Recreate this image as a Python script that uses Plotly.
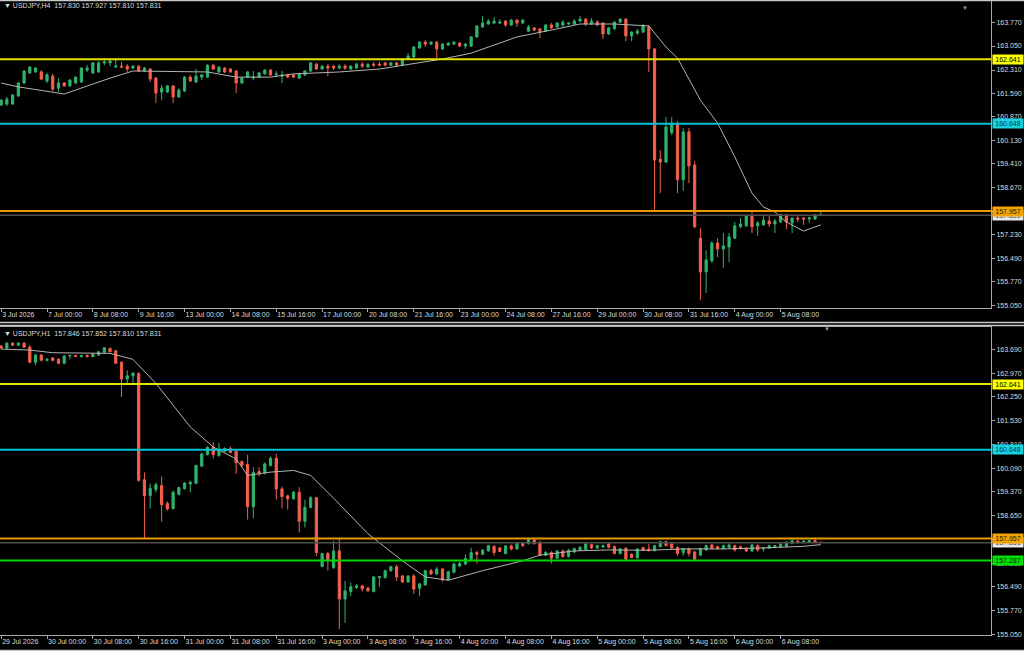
import plotly.graph_objects as go

# USDJPY H4 bars, (open, high, low, close)
h4_ohlc = [
    (161.23, 161.41, 161.20, 161.38), (161.26, 161.48, 161.20, 161.41), (161.26, 161.57, 161.23, 161.54),
    (161.51, 161.94, 161.48, 161.91), (161.91, 162.31, 161.88, 162.28), (162.22, 162.43, 162.19, 162.40),
    (162.25, 162.40, 162.22, 162.37), (162.25, 162.31, 162.00, 162.03), (161.97, 162.22, 161.91, 162.16),
    (162.12, 162.19, 161.66, 161.72), (161.75, 162.06, 161.63, 161.91), (161.91, 161.94, 161.79, 161.82),
    (161.82, 162.03, 161.79, 162.00), (161.91, 162.12, 161.88, 162.09), (161.94, 162.40, 161.91, 162.37),
    (162.31, 162.46, 162.25, 162.37), (162.22, 162.56, 162.19, 162.53), (162.25, 162.59, 162.22, 162.53),
    (162.53, 162.68, 162.46, 162.56), (162.53, 162.65, 162.43, 162.59), (162.40, 162.62, 162.37, 162.43),
    (162.43, 162.56, 162.37, 162.40), (162.43, 162.49, 162.25, 162.34), (162.37, 162.46, 162.34, 162.43),
    (162.43, 162.46, 162.25, 162.28), (162.28, 162.40, 162.25, 162.37), (162.34, 162.37, 161.94, 162.03),
    (162.06, 162.09, 161.29, 161.60), (161.63, 161.85, 161.38, 161.75), (161.63, 161.85, 161.60, 161.82),
    (161.82, 161.85, 161.29, 161.48), (161.48, 161.75, 161.45, 161.69), (161.66, 162.12, 161.63, 162.09),
    (162.09, 162.16, 161.94, 161.97), (161.94, 162.34, 161.91, 162.12), (162.09, 162.19, 162.00, 162.16),
    (162.09, 162.49, 162.06, 162.46), (162.46, 162.49, 162.31, 162.34), (162.25, 162.43, 162.22, 162.40),
    (162.37, 162.40, 162.22, 162.25), (162.34, 162.37, 162.22, 162.25), (162.28, 162.31, 161.60, 161.91),
    (161.91, 162.09, 161.88, 162.06), (162.09, 162.28, 162.06, 162.25), (162.06, 162.28, 162.00, 162.09),
    (162.09, 162.25, 162.06, 162.22), (162.19, 162.34, 162.16, 162.31), (162.31, 162.34, 162.12, 162.16),
    (162.16, 162.28, 162.09, 162.19), (162.12, 162.28, 161.91, 162.16), (162.16, 162.19, 162.06, 162.09),
    (162.16, 162.19, 162.06, 162.09), (162.06, 162.22, 162.03, 162.19), (162.16, 162.31, 162.12, 162.28),
    (162.28, 162.56, 162.25, 162.53), (162.49, 162.53, 162.31, 162.34), (162.34, 162.46, 162.31, 162.43),
    (162.43, 162.49, 162.12, 162.37), (162.43, 162.46, 162.31, 162.37), (162.37, 162.49, 162.34, 162.43),
    (162.43, 162.49, 162.31, 162.37), (162.34, 162.46, 162.31, 162.43), (162.37, 162.53, 162.34, 162.49),
    (162.49, 162.56, 162.37, 162.43), (162.40, 162.53, 162.37, 162.49), (162.49, 162.56, 162.40, 162.46),
    (162.49, 162.56, 162.43, 162.46), (162.53, 162.56, 162.43, 162.46), (162.46, 162.56, 162.43, 162.53),
    (162.53, 162.56, 162.43, 162.46), (162.46, 162.68, 162.43, 162.65), (162.65, 162.83, 162.62, 162.74),
    (162.71, 163.05, 162.68, 163.02), (162.99, 163.20, 162.96, 163.17), (163.17, 163.24, 163.02, 163.11),
    (163.11, 163.20, 163.08, 163.17), (163.17, 163.20, 162.68, 162.96), (162.96, 163.14, 162.93, 163.11),
    (163.08, 163.17, 163.05, 163.14), (163.11, 163.20, 163.08, 163.17), (163.14, 163.17, 163.02, 163.05),
    (163.05, 163.14, 162.96, 163.11), (163.05, 163.36, 163.02, 163.33), (163.33, 163.70, 163.30, 163.67),
    (163.64, 163.98, 163.61, 163.76), (163.73, 163.88, 163.70, 163.82), (163.76, 163.95, 163.73, 163.82),
    (163.76, 163.88, 163.73, 163.79), (163.82, 163.85, 163.64, 163.70), (163.70, 163.88, 163.67, 163.85),
    (163.85, 163.88, 163.64, 163.76), (163.76, 163.88, 163.73, 163.85), (163.51, 163.70, 163.48, 163.64),
    (163.61, 163.64, 163.51, 163.54), (163.58, 163.61, 163.30, 163.48), (163.51, 163.73, 163.48, 163.70),
    (163.70, 163.76, 163.58, 163.61), (163.64, 163.79, 163.61, 163.76), (163.70, 163.85, 163.64, 163.79),
    (163.73, 163.79, 163.70, 163.76), (163.73, 163.88, 163.70, 163.82), (163.82, 163.98, 163.79, 163.88),
    (163.88, 163.91, 163.67, 163.73), (163.73, 163.91, 163.70, 163.82), (163.79, 163.85, 163.67, 163.70),
    (163.76, 163.79, 163.27, 163.42), (163.42, 163.64, 163.39, 163.61), (163.58, 163.82, 163.54, 163.79),
    (163.79, 163.91, 163.76, 163.88), (163.88, 163.91, 163.20, 163.36), (163.36, 163.51, 163.20, 163.48),
    (163.45, 163.58, 163.39, 163.51), (163.48, 163.73, 163.45, 163.67), (163.64, 163.70, 162.25, 162.96),
    (162.96, 162.99, 157.96, 159.53), (159.56, 159.84, 158.51, 159.47), (159.47, 160.86, 159.44, 160.55),
    (160.37, 160.86, 160.30, 160.67), (160.67, 160.73, 158.51, 158.92), (158.92, 160.52, 158.58, 160.40),
    (160.40, 160.52, 158.82, 159.35), (159.38, 159.50, 157.43, 157.47), (157.12, 157.43, 155.21, 156.08),
    (156.08, 156.75, 155.43, 156.45), (156.42, 157.03, 156.35, 156.97), (156.97, 157.12, 156.54, 156.79),
    (156.79, 157.28, 156.20, 156.88), (156.85, 157.28, 156.38, 157.16), (157.12, 157.62, 157.09, 157.50),
    (157.47, 157.74, 157.43, 157.56), (157.50, 157.84, 157.47, 157.80), (157.80, 157.93, 157.28, 157.47),
    (157.50, 157.65, 157.19, 157.59), (157.53, 157.80, 157.50, 157.68), (157.65, 157.84, 157.47, 157.56),
    (157.56, 157.71, 157.28, 157.65), (157.62, 157.87, 157.59, 157.84), (157.84, 157.87, 157.40, 157.62),
    (157.59, 157.77, 157.28, 157.74), (157.74, 157.80, 157.62, 157.71), (157.74, 157.77, 157.53, 157.71),
    (157.71, 157.78, 157.59, 157.75), (157.71, 157.87, 157.68, 157.84), (157.830, 157.927, 157.810, 157.831),
]

# USDJPY H1 bars, (open, high, low, close)
h1_ohlc = [
    (163.79, 163.82, 163.70, 163.73), (163.73, 163.91, 163.70, 163.88), (163.88, 163.91, 163.79, 163.82),
    (163.82, 163.91, 163.79, 163.88), (163.88, 163.91, 163.73, 163.76), (163.76, 163.82, 163.27, 163.30),
    (163.30, 163.55, 163.21, 163.52), (163.52, 163.55, 163.33, 163.36), (163.36, 163.43, 163.33, 163.39),
    (163.43, 163.46, 163.33, 163.36), (163.39, 163.43, 163.24, 163.27), (163.27, 163.52, 163.24, 163.49),
    (163.49, 163.52, 163.39, 163.51), (163.51, 163.52, 163.46, 163.48), (163.47, 163.52, 163.45, 163.51),
    (163.51, 163.53, 163.45, 163.47), (163.47, 163.58, 163.45, 163.55), (163.52, 163.64, 163.49, 163.62),
    (163.60, 163.76, 163.58, 163.74), (163.72, 163.75, 163.60, 163.62), (163.65, 163.68, 163.25, 163.27),
    (163.30, 163.33, 162.25, 162.79), (162.79, 163.06, 162.66, 162.89), (162.89, 163.00, 162.66, 162.97),
    (162.96, 163.00, 159.68, 159.72), (159.74, 159.96, 157.94, 159.26), (159.26, 159.62, 158.86, 159.47),
    (159.44, 159.65, 159.35, 159.59), (159.56, 159.84, 158.47, 158.98), (159.02, 159.08, 158.80, 158.85),
    (158.87, 159.41, 158.83, 159.36), (159.30, 159.53, 159.26, 159.50), (159.47, 159.66, 159.44, 159.64),
    (159.61, 159.71, 159.35, 159.66), (159.63, 160.20, 159.60, 160.17), (160.15, 160.56, 160.12, 160.52),
    (160.50, 160.75, 160.47, 160.72), (160.72, 160.88, 160.38, 160.50), (160.47, 160.86, 160.44, 160.66),
    (160.60, 160.72, 160.57, 160.68), (160.68, 160.75, 160.55, 160.56), (160.60, 160.63, 159.92, 160.26),
    (160.29, 160.32, 160.12, 160.18), (160.20, 160.50, 158.53, 158.92), (158.92, 160.12, 158.57, 159.96),
    (159.99, 160.12, 159.84, 159.94), (159.94, 160.26, 159.90, 160.22), (160.17, 160.44, 160.14, 160.39),
    (160.39, 160.53, 159.14, 159.46), (159.46, 159.53, 158.87, 159.23), (159.25, 159.28, 158.83, 159.16),
    (159.16, 159.40, 159.13, 159.36), (159.36, 159.51, 158.14, 158.48), (158.48, 159.13, 158.29, 158.90),
    (158.90, 159.25, 158.87, 159.19), (159.19, 159.22, 157.43, 157.53), (157.11, 157.52, 157.08, 157.50),
    (157.50, 157.55, 156.98, 157.28), (157.07, 157.89, 157.04, 157.58), (157.58, 157.95, 155.21, 156.12),
    (156.12, 156.67, 155.40, 156.37), (156.35, 156.62, 156.21, 156.49), (156.47, 156.58, 156.43, 156.52),
    (156.52, 156.55, 156.35, 156.43), (156.45, 156.49, 156.34, 156.37), (156.35, 156.82, 156.32, 156.79),
    (156.77, 156.82, 156.49, 156.80), (156.77, 157.01, 156.74, 156.98), (156.98, 157.13, 156.95, 157.10),
    (157.10, 157.16, 156.67, 156.79), (156.82, 156.85, 156.61, 156.64), (156.64, 156.85, 156.61, 156.82),
    (156.82, 156.88, 156.28, 156.42), (156.45, 156.61, 156.21, 156.58), (156.55, 157.01, 156.52, 156.98),
    (156.98, 157.04, 156.86, 156.88), (156.88, 157.10, 156.85, 157.03), (157.03, 157.07, 156.65, 156.70),
    (156.70, 156.98, 156.67, 156.95), (156.93, 157.22, 156.90, 157.18), (157.12, 157.25, 157.09, 157.20),
    (157.18, 157.48, 157.15, 157.35), (157.33, 157.68, 157.30, 157.53), (157.53, 157.58, 157.20, 157.48),
    (157.48, 157.64, 157.45, 157.60), (157.58, 157.77, 157.55, 157.74), (157.71, 157.76, 157.43, 157.53),
    (157.67, 157.70, 157.55, 157.56), (157.50, 157.76, 157.47, 157.73), (157.73, 157.77, 157.60, 157.64),
    (157.64, 157.85, 157.61, 157.81), (157.83, 157.86, 157.70, 157.74), (157.80, 157.98, 157.77, 157.92),
    (157.91, 157.97, 157.77, 157.80), (157.84, 157.89, 157.43, 157.45), (157.45, 157.58, 157.42, 157.53),
    (157.53, 157.57, 157.20, 157.36), (157.36, 157.61, 157.34, 157.58), (157.58, 157.62, 157.37, 157.41),
    (157.41, 157.64, 157.38, 157.60), (157.55, 157.68, 157.52, 157.65), (157.61, 157.73, 157.58, 157.69),
    (157.62, 157.82, 157.59, 157.79), (157.77, 157.80, 157.64, 157.67), (157.67, 157.77, 157.64, 157.74),
    (157.70, 157.77, 157.67, 157.74), (157.79, 157.82, 157.66, 157.69), (157.71, 157.74, 157.47, 157.50),
    (157.50, 157.68, 157.47, 157.64), (157.66, 157.69, 157.31, 157.33), (157.48, 157.51, 157.36, 157.38),
    (157.37, 157.67, 157.34, 157.64), (157.68, 157.71, 157.58, 157.60), (157.64, 157.79, 157.56, 157.59),
    (157.59, 157.77, 157.56, 157.74), (157.71, 157.89, 157.68, 157.86), (157.86, 157.89, 157.72, 157.74),
    (157.79, 157.82, 157.65, 157.67), (157.68, 157.72, 157.43, 157.50), (157.53, 157.67, 157.43, 157.65),
    (157.65, 157.68, 157.41, 157.50), (157.55, 157.58, 157.31, 157.33), (157.45, 157.68, 157.42, 157.65),
    (157.61, 157.77, 157.58, 157.74), (157.76, 157.81, 157.63, 157.66), (157.71, 157.74, 157.63, 157.65),
    (157.65, 157.77, 157.62, 157.74), (157.69, 157.81, 157.66, 157.76), (157.74, 157.77, 157.56, 157.61),
    (157.71, 157.74, 157.62, 157.65), (157.66, 157.69, 157.55, 157.58), (157.58, 157.79, 157.55, 157.76),
    (157.74, 157.77, 157.56, 157.61), (157.64, 157.69, 157.56, 157.67), (157.67, 157.77, 157.64, 157.74),
    (157.71, 157.76, 157.68, 157.74), (157.71, 157.82, 157.68, 157.78), (157.72, 157.88, 157.69, 157.84),
    (157.81, 157.93, 157.78, 157.89), (157.88, 157.91, 157.80, 157.84), (157.84, 157.90, 157.81, 157.88),
    (157.85, 157.91, 157.82, 157.89), (157.89, 157.98, 157.82, 157.85), (157.846, 157.852, 157.810, 157.831),
]

# moving average (bar index, value)
ma_h4_x = [0, 3, 11, 19, 23, 36, 41, 47, 51, 59, 66, 77, 82, 86, 90, 97, 101, 107, 113,
           116, 118, 122, 125, 128, 131, 133, 135, 137, 140, 143]
ma_h4 = [161.91, 161.79, 161.57, 162.06, 162.28, 162.25, 162.09, 162.09, 162.19, 162.25, 162.34,
         162.65, 162.83, 163.08, 163.33, 163.58, 163.73, 163.73, 163.67, 163.02, 162.68, 161.38,
         160.67, 159.63, 158.51, 158.08, 157.93, 157.62, 157.34, 157.53]
ma_h1_x = [0, 5, 9, 19, 23, 27, 33, 37, 41, 43, 47, 51, 54, 58, 64, 70, 74, 78, 84, 91, 94,
           100, 106, 113, 119, 126, 133, 138, 140, 143]
ma_h1 = [163.70, 163.67, 163.59, 163.57, 163.39, 162.66, 161.34, 160.73, 160.37, 159.87, 159.97,
         160.02, 159.87, 159.18, 158.10, 157.28, 156.79, 156.69, 156.98, 157.28, 157.45, 157.58,
         157.61, 157.60, 157.64, 157.64, 157.67, 157.69, 157.72, 157.77]

# horizontal levels
level_yellow = 162.641
level_cyan = 160.648
level_orange = 157.957
level_green = 157.287
last_price = 157.831

h4_time_labels = ["3 Jul 2026", "7 Jul 00:00", "8 Jul 08:00", "9 Jul 16:00", "13 Jul 00:00",
                  "14 Jul 08:00", "15 Jul 16:00", "17 Jul 00:00", "20 Jul 08:00", "21 Jul 16:00",
                  "23 Jul 00:00", "24 Jul 08:00", "27 Jul 16:00", "29 Jul 00:00", "30 Jul 08:00",
                  "31 Jul 16:00", "4 Aug 00:00", "5 Aug 08:00"]
h1_time_labels = ["29 Jul 2026", "30 Jul 00:00", "30 Jul 08:00", "30 Jul 16:00", "31 Jul 00:00",
                  "31 Jul 08:00", "31 Jul 16:00", "3 Aug 00:00", "3 Aug 08:00", "3 Aug 16:00",
                  "4 Aug 00:00", "4 Aug 08:00", "4 Aug 16:00", "5 Aug 00:00", "5 Aug 08:00",
                  "5 Aug 16:00", "6 Aug 00:00", "6 Aug 08:00"]
h4_price_ticks = [163.770, 163.050, 162.310, 161.590, 160.870, 160.130, 159.410, 158.670,
                  157.950, 157.230, 156.490, 155.770, 155.050]
h1_price_ticks = [163.690, 162.970, 162.250, 161.530, 160.810, 160.090, 159.370, 158.650,
                  157.930, 157.210, 156.490, 155.770, 155.050]

W, H = 1024, 651
GREEN = "#2fb36c"
RED = "#f5604a"
FG = "#dcdcdc"
FRAME = "#a8a8a8"
FONT = "Liberation Sans, DejaVu Sans, sans-serif"


def py(px):
    # pixel row -> paper y
    return 1 - px / H


fig = go.Figure()

for ohlc, ma_x, ma_y, xa, ya in [(h4_ohlc, ma_h4_x, ma_h4, "x", "y"),
                                 (h1_ohlc, ma_h1_x, ma_h1, "x2", "y2")]:
    o, h, l, c = zip(*ohlc)
    fig.add_trace(go.Candlestick(
        x=list(range(len(o))), open=o, high=h, low=l, close=c,
        xaxis=xa, yaxis=ya, whiskerwidth=0, showlegend=False,
        increasing=dict(line=dict(color=GREEN, width=1), fillcolor=GREEN),
        decreasing=dict(line=dict(color=RED, width=1), fillcolor=RED),
    ))
    fig.add_trace(go.Scatter(x=ma_x, y=ma_y, mode="lines", xaxis=xa, yaxis=ya,
                             line=dict(color="#b4b4b4", width=1), showlegend=False,
                             hoverinfo="skip"))

xdom = [0, 991 / W]
xr = [-0.2, 172.7]


def xaxis_cfg(anchor, labels):
    return dict(domain=xdom, range=xr, anchor=anchor, showgrid=False, zeroline=False,
                showline=True, linecolor=FRAME, linewidth=1, mirror=True,
                ticks="outside", ticklen=3, tickcolor=FRAME, tickangle=0,
                tickvals=list(range(0, 8 * len(labels), 8)), ticktext=labels,
                ticklabelposition="outside right", automargin=False,
                tickfont=dict(family=FONT, size=7, color=FG),
                rangeslider=dict(visible=False), fixedrange=True)


def yaxis_cfg(anchor, dom, rng, ticks):
    return dict(domain=dom, range=rng, anchor=anchor, side="right", showgrid=False,
                zeroline=False, showline=True, linecolor=FRAME, linewidth=1,
                ticks="outside", ticklen=3, tickcolor=FRAME, automargin=False,
                tickvals=ticks, ticktext=["%.3f" % t for t in ticks],
                tickfont=dict(family=FONT, size=7, color=FG), fixedrange=True)


fig.update_layout(
    template="none",
    width=W, height=H, margin=dict(l=0, r=0, t=0, b=0, pad=0, autoexpand=False),
    paper_bgcolor="black", plot_bgcolor="black",
    boxgap=0.45, showlegend=False,
    xaxis=xaxis_cfg("y", h4_time_labels),
    xaxis2=xaxis_cfg("y2", h1_time_labels),
    yaxis=yaxis_cfg("x", [py(308), py(1)], [154.965, 164.44], h4_price_ticks),
    yaxis2=yaxis_cfg("x2", [py(635), py(327)], [155.03, 164.37], h1_price_ticks),
)

# horizontal lines
lines_top = [(last_price, "#4e4e4e", 1.5), (level_yellow, "#e4e400", 2),
             (level_cyan, "#00c4d4", 2), (level_orange, "#e89a00", 2)]
lines_bot = lines_top + [(level_green, "#00d800", 2)]
for ya, xa, lines in [("y", "x", lines_top), ("y2", "x2", lines_bot)]:
    for lvl, col, lw in lines:
        fig.add_shape(type="line", xref=xa + " domain", yref=ya, x0=0, x1=1, y0=lvl, y1=lvl,
                      line=dict(color=col, width=lw))

# window frames
for y0 in [0.5, 322.5, 325.5, 650.5]:
    fig.add_shape(type="line", xref="paper", yref="paper", x0=0, x1=1, y0=py(y0), y1=py(y0),
                  line=dict(color="#c8c8c8", width=1.5))

# price tags on the right scale
tags = [(last_price, "#e8e8e8", "#505050"), (level_yellow, "#ffff00", "#000000"),
        (level_cyan, "#19d3e0", "#003c40"), (level_orange, "#f5a300", "#2a1a00")]
tags_bot = tags + [(level_green, "#00e000", "#002000")]
for ya, tl in [("y", tags), ("y2", tags_bot)]:
    for lvl, bg, fc in tl:
        fig.add_annotation(xref="paper", yref=ya, x=992 / W, y=lvl, xanchor="left",
                           yanchor="middle", text="%.3f" % lvl, showarrow=False,
                           bgcolor=bg, width=30, height=9, borderpad=0, align="center",
                           font=dict(family=FONT, size=7, color=fc))

# headers
headers = [(6, "USDJPY,H4\u00a0\u00a0157.830 157.927 157.810 157.831"),
           (333, "USDJPY,H1\u00a0\u00a0157.846 157.852 157.810 157.831")]
for yy, txt in headers:
    fig.add_annotation(xref="paper", yref="paper", x=2 / W, y=py(yy), xanchor="left",
                       yanchor="middle", showarrow=False, text="\u25bc\u00a0" + txt,
                       font=dict(family=FONT, size=7, color=FG))

# chart shift markers
for xx, yy in [(970, 3), (832, 329)]:
    fig.add_annotation(xref="paper", yref="paper", x=xx / W, y=py(yy), showarrow=False,
                       text="\u25bc", font=dict(family=FONT, size=6, color="#8c9cb0"))

# page body has a default margin; drop it so the figure sits at the window corner
fig.write_html("out.html", config={"displayModeBar": False},
               post_script="document.body.style.margin='0';")
